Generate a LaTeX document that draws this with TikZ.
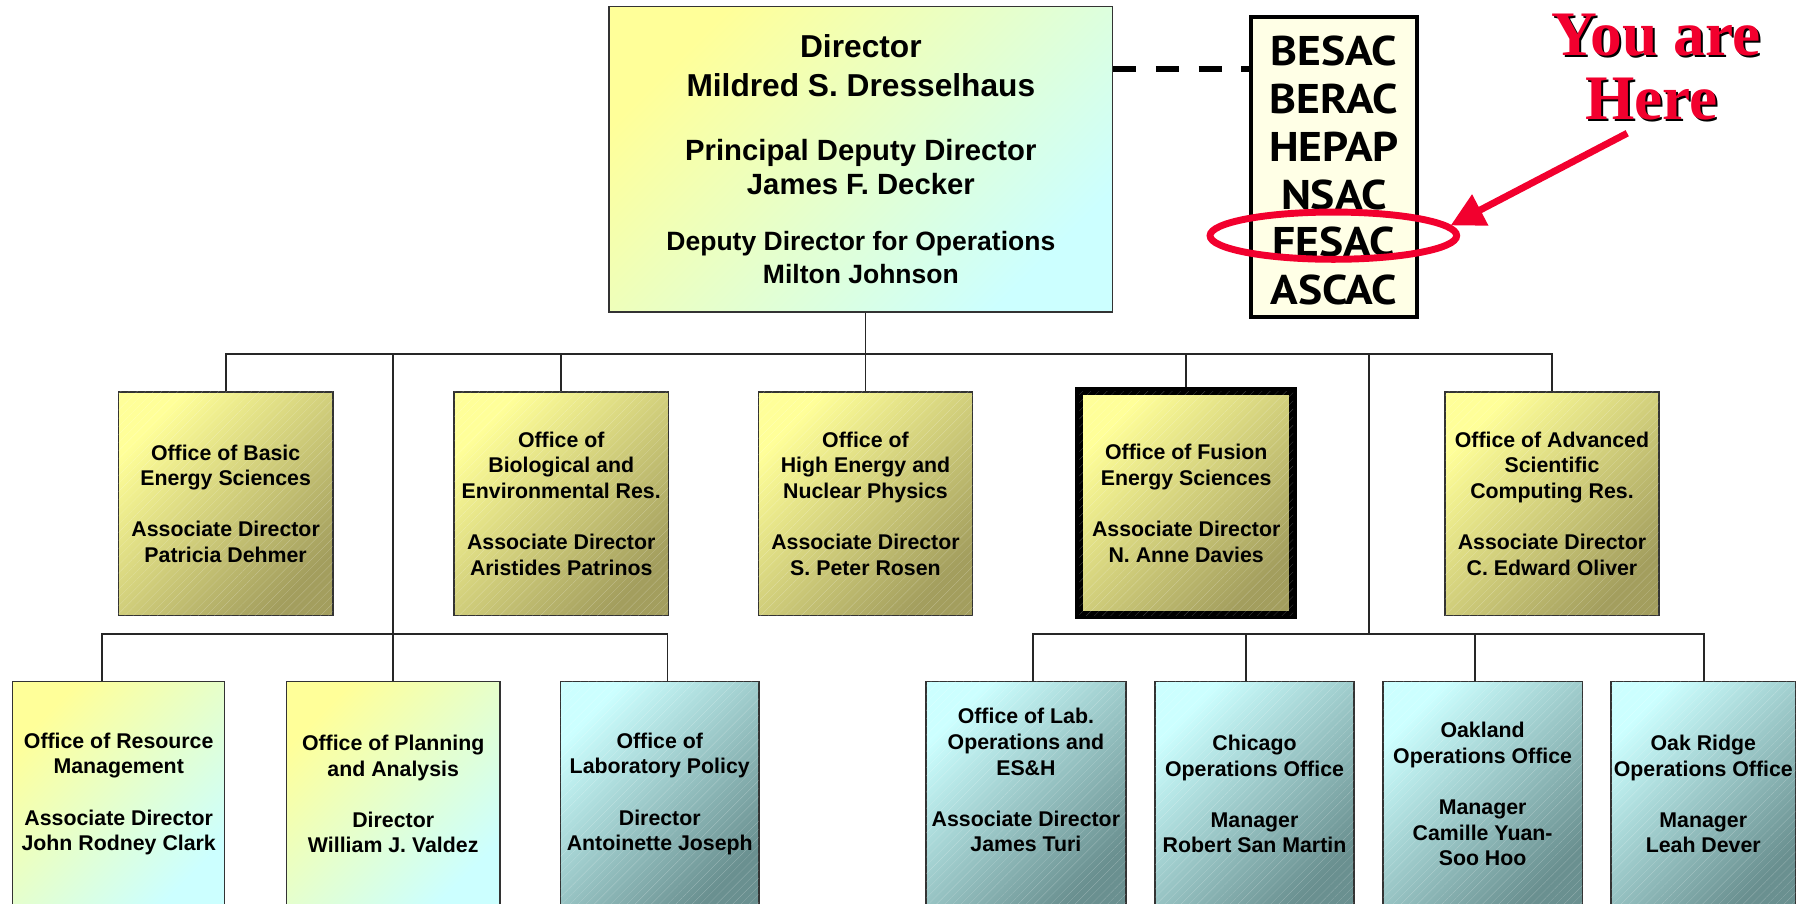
\documentclass[tikz,border=0pt]{standalone}
\usepackage{fontspec}
\setmainfont{Liberation Sans}
\newfontfamily\advfont{PT Sans}[FakeStretch=1.1]
\newfontfamily\herefont{Liberation Serif}
\usetikzlibrary{arrows.meta,patterns.meta,shapes.geometric}
\definecolor{yel}{HTML}{FFFF99}
\definecolor{cyn}{HTML}{CCFFFF}
\definecolor{oliv}{HTML}{A39E5E}
\definecolor{tealdk}{HTML}{6A9090}
\definecolor{cream}{HTML}{FFFFE6}
\definecolor{redh}{HTML}{F2002E}
\tikzset{
  conn/.style={draw=black!85, line width=1.5pt},
  orgbox/.style={draw=black!80, line width=1.3pt, inner sep=0pt, align=center,
    font=\bfseries\fontsize{18.5}{22.2}\selectfont},
  lvltwo/.style={orgbox, minimum width=186pt, minimum height=194pt},
  lvlthree/.style={orgbox, minimum height=195pt},
  hatch/.style={pattern={Lines[angle=45,distance=5pt,line width=0.2pt]}, pattern color=white, opacity=0.3},
  ycgrad/.style={top color=yel, bottom color=cyn, shading angle=45},
  olgrad/.style={top color=yel, bottom color=oliv, shading angle=45, postaction={hatch}},
  tlgrad/.style={top color=cyn, bottom color=tealdk, shading angle=45, postaction={hatch}},
  dtxt/.style={anchor=base, inner sep=0pt, font=\bfseries\fontsize{#1}{#1}\selectfont},
  dashlink/.style={line width=5pt, dash pattern=on 20pt off 17pt},
  herestyle/.style={anchor=base, inner sep=0pt, font=\herefont\bfseries\fontsize{55}{56}\selectfont},
}
\begin{document}
\begin{tikzpicture}[x=1pt,y=-1pt]
\useasboundingbox (0,0) rectangle (1568,784);
\clip (0,0) rectangle (1568,784);

% Director box
\node[orgbox, ycgrad, minimum width=437pt, minimum height=264.7pt] (dir) at (746.9,138.2) {};
\node[dtxt=27.5] (d1) at (747,49.8) {Director};
\node[dtxt=27.5] (d2) at (747,83.9) {Mildred S. Dresselhaus};
\node[dtxt=25.4] (d3) at (747,139.4) {Principal Deputy Director};
\node[dtxt=25.4] (d4) at (747,169.2) {James F. Decker};
\node[dtxt=23] (d5) at (747,217) {Deputy Director for Operations};
\node[dtxt=23] (d6) at (747,245.9) {Milton Johnson};

% Advisory committees
\node[draw=black, line width=3.2pt, fill=cream, minimum width=143.8pt, minimum height=260.8pt, inner sep=0pt] (adv) at (1157.5,144.9) {};
\node[align=center, inner sep=0pt, font=\advfont\bfseries\fontsize{36}{41.6}\selectfont] (advt) at (1157.5,148) {BESAC\\BERAC\\HEPAP\\NSAC\\FESAC\\ASCAC};
\coordinate (dashY) at (1000,60);
\draw[dashlink] (dir.east |- dashY) -- (adv.west |- dashY);

% Level 2
\node[lvltwo, olgrad] (bes) at (195.8,437) {Office of Basic\\Energy Sciences\\[22.2pt]Associate Director\\Patricia Dehmer};
\node[lvltwo, olgrad] (bio) at (487,437) {Office of\\Biological and\\Environmental Res.\\[22.2pt]Associate Director\\Aristides Patrinos};
\node[lvltwo, olgrad] (hep) at (751,437) {Office of\\High Energy and\\Nuclear Physics\\[22.2pt]Associate Director\\S. Peter Rosen};
\node[lvltwo, olgrad, draw=black, line width=7pt, minimum width=185.5pt, minimum height=194.5pt] (fes) at (1029.3,436.8) {Office of Fusion\\Energy Sciences\\[22.2pt]Associate Director\\N. Anne Davies};
\node[lvltwo, olgrad] (asc) at (1346.7,437) {Office of Advanced\\Scientific\\Computing Res.\\[22.2pt]Associate Director\\C. Edward Oliver};

% Level 3
\node[lvlthree, ycgrad, minimum width=184pt] (res) at (103,689) {Office of Resource\\Management\\[22.2pt]Associate Director\\John Rodney Clark};
\node[lvlthree, ycgrad, minimum width=185.4pt] (pla) at (341.2,689) {Office of Planning\\and Analysis\\[22.2pt]Director\\William J. Valdez};
\node[lvlthree, tlgrad, minimum width=172pt] (lab) at (572.5,689) {Office of\\Laboratory Policy\\[22.2pt]Director\\Antoinette Joseph};
\node[lvlthree, tlgrad, minimum width=173.3pt] (lop) at (890.2,689) {Office of Lab.\\Operations and\\ES\&H\\[22.2pt]Associate Director\\James Turi\\[2pt]\mbox{}};
\node[lvlthree, tlgrad, minimum width=172.7pt] (chi) at (1088.6,689) {Chicago\\Operations Office\\[22.2pt]Manager\\Robert San Martin};
\node[lvlthree, tlgrad, minimum width=173pt] (oak) at (1286.5,689) {Oakland\\Operations Office\\[22.2pt]Manager\\Camille Yuan-\\Soo Hoo};
\node[lvlthree, tlgrad, minimum width=160pt] (orr) at (1478,689) {Oak Ridge\\Operations Office\\[22.2pt]Manager\\Leah Dever};

% Connectors
\coordinate (bus) at (751,307);
\draw[conn] (dir.south -| bus) -- (bus);
\draw[conn] (bes.north) |- (asc.north |- bus) -- (asc.north);
\draw[conn] (bio.north) -- (bio.north |- bus);
\draw[conn] (hep.north) -- (hep.north |- bus);
\draw[conn] (fes.north) -- (fes.north |- bus);
\draw[conn] (pla.north) -- (pla.north |- bus);
\coordinate (lbL) at (88.7,550);
\coordinate (lbR) at (579.3,550);
\draw[conn] (lbL |- res.north) -- (lbL) -- (lbR) -- (lbR |- lab.north);
\coordinate (rvx) at (1187.6,307);
\coordinate (rbL) at (896.4,550);
\coordinate (rbR) at (1478.6,550);
\draw[conn] (rvx) -- (rvx |- rbL);
\draw[conn] (rbL |- lop.north) -- (rbL) -- (rbR) -- (rbR |- orr.north);
\coordinate (chidrop) at (1081,550);
\coordinate (oakdrop) at (1280,550);
\draw[conn] (chidrop |- chi.north) -- (chidrop);
\draw[conn] (oakdrop |- oak.north) -- (oakdrop);

% You are here
\node[ellipse, draw=redh, line width=6pt, minimum width=214pt, minimum height=41pt, inner sep=0pt] (ring) at (1157,204.5) {};
\coordinate (tail) at (1412,115.6);
\draw[draw=redh, line width=6pt, -{Triangle[length=29pt,width=29pt]}] (tail) -- (ring.5);
\node[herestyle, text=black] (y1s) at (1438.7,49.7) {You are};
\node[herestyle, text=redh] (y1) at (1437,48) {You are};
\node[herestyle, text=black] (h1s) at (1434.7,105.7) {Here};
\node[herestyle, text=redh] (h1) at (1433,104) {Here};
\end{tikzpicture}
\end{document}
